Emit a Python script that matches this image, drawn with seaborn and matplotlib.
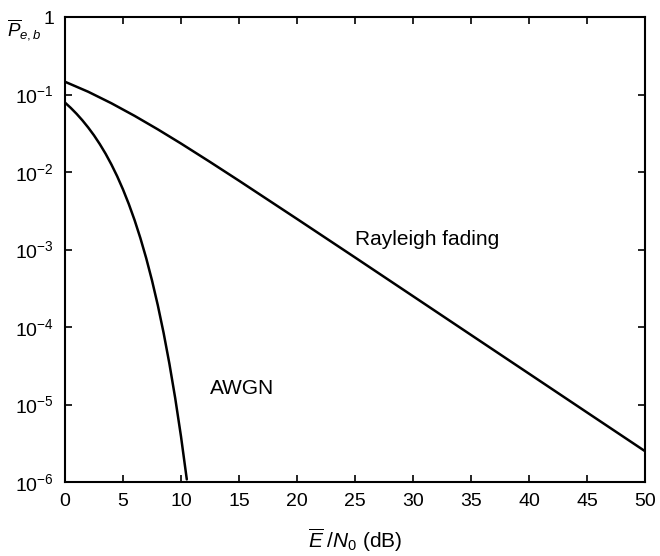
import matplotlib
matplotlib.use("Agg")
import matplotlib.pyplot as plt
import seaborn as sns
import pandas as pd
import numpy as np

sns.set_theme(style="ticks")
plt.rcParams['font.family'] = ['Liberation Sans', 'DejaVu Sans']
plt.rcParams['mathtext.fontset'] = 'custom'
plt.rcParams['mathtext.rm'] = 'Liberation Sans'
plt.rcParams['mathtext.it'] = 'Liberation Sans:italic'
plt.rcParams['mathtext.bf'] = 'Liberation Sans:bold'
plt.rcParams['text.color'] = 'black'
plt.rcParams['axes.labelcolor'] = 'black'

# AWGN curve
awgn_snr = [0, 0.5, 1, 1.5, 2, 2.5, 3, 3.5, 4, 4.5, 5, 5.5, 6, 6.5, 7, 7.5, 8,
            8.5, 9, 9.5, 10, 10.5]
awgn_ber = [0.0786, 0.0671, 0.0563, 0.0464, 0.0375, 0.0297, 0.0229, 0.0172,
            0.0125, 0.0088, 0.00595, 0.00386, 0.00239, 0.0014, 7.73e-4,
            3.99e-4, 1.91e-4, 8.4e-5, 3.36e-5, 1.21e-5, 3.87e-6, 1.08e-6]

# Rayleigh fading curve
ray_snr = [0, 2, 4, 6, 8, 10, 12.5, 15, 20, 25, 30, 35, 40, 45, 50]
ray_ber = [0.146, 0.1085, 0.0771, 0.053, 0.0355, 0.0233, 0.01349, 0.00772,
           0.00248, 7.9e-4, 2.5e-4, 7.9e-5, 2.5e-5, 7.9e-6, 2.5e-6]

x_ticks = [0, 5, 10, 15, 20, 25, 30, 35, 40, 45, 50]
y_ticks = [1e-6, 1e-5, 1e-4, 1e-3, 1e-2, 1e-1, 1]
y_labels = [r'$10^{-6}$', r'$10^{-5}$', r'$10^{-4}$', r'$10^{-3}$',
            r'$10^{-2}$', r'$10^{-1}$', '1']

df_awgn = pd.DataFrame({'snr': awgn_snr, 'ber': awgn_ber})
df_ray = pd.DataFrame({'snr': ray_snr, 'ber': ray_ber})

fig = plt.figure(figsize=(6.6, 5.56), dpi=100)
ax = fig.add_axes([65/660, 1-482/556, 580/660, 465/556])

sns.lineplot(data=df_ray, x='snr', y='ber', ax=ax, color='black', lw=1.8)
sns.lineplot(data=df_awgn, x='snr', y='ber', ax=ax, color='black', lw=1.8)

ax.set_yscale('log')
ax.set_xlim(0, 50)
ax.set_ylim(1e-6, 1)
ax.set_xticks(x_ticks)
ax.set_xticklabels([str(t) for t in x_ticks])
ax.set_yticks(y_ticks)
ax.set_yticklabels(y_labels)
ax.minorticks_off()
ax.tick_params(direction='in', length=5, width=1.2, top=True, right=True,
               labelsize=14, colors='black', pad=8)
for s in ax.spines.values():
    s.set_linewidth(1.5)
    s.set_color('black')

ax.set_xlabel(r'$\overline{E}\;/N_0$ (dB)', fontsize=15, labelpad=12)
ax.set_ylabel('')
fig.text(7/660, 1-30/556, r'$\overline{P}_{e,b}$', fontsize=13.5, ha='left', va='center')

ax.text(25.0, 1.33e-3, 'Rayleigh fading', fontsize=15, ha='left', va='center')
ax.text(12.5, 1.63e-5, 'AWGN', fontsize=15, ha='left', va='center')

fig.savefig('out.png', dpi=100, facecolor='white')
